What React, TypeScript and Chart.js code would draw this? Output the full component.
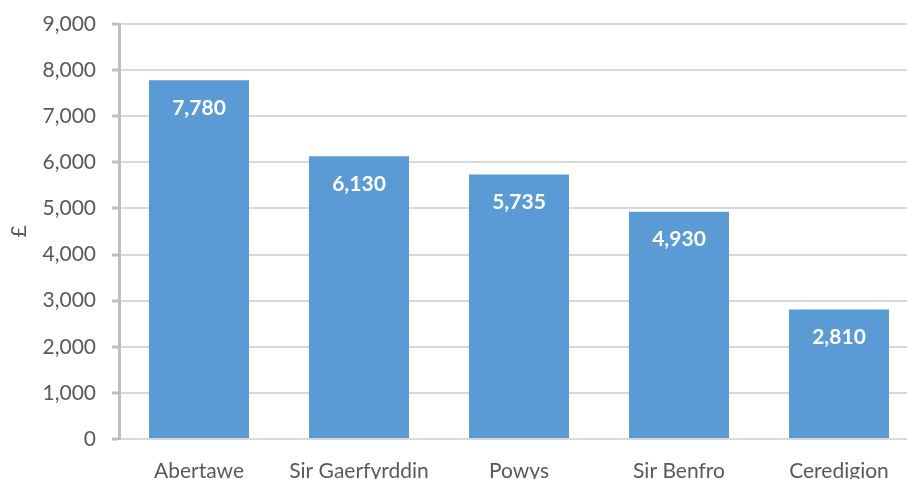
import React, { useEffect, useRef } from "react";
import { Chart, registerables } from "chart.js";

Chart.register(...registerables);

const categories = ["Abertawe", "Sir Gaerfyrddin", "Powys", "Sir Benfro", "Ceredigion"];
const values = [7780, 6130, 5735, 4930, 2810];
const yMin = 0;
const yMax = 9000;
const yStep = 1000;
const yTitle = "£";

const FONT = "Lato, 'Noto Sans', sans-serif";
const TEXT = "#595959";

const fmt = (v: number) => v.toLocaleString("en-US");

const labelPlugin = {
  id: "barLabels",
  afterDatasetsDraw(chart: any) {
    const ctx = chart.ctx;
    const meta = chart.getDatasetMeta(0);
    ctx.save();
    ctx.fillStyle = "#FFFFFF";
    ctx.font = `bold 21px ${FONT}`;
    ctx.textAlign = "center";
    ctx.textBaseline = "middle";
    meta.data.forEach((bar: any, i: number) => {
      ctx.fillText(fmt(values[i]), bar.x, bar.y + 27.5);
    });
    ctx.restore();
  },
};

export default function App() {
  const ref = useRef<HTMLCanvasElement | null>(null);
  useEffect(() => {
    if (!ref.current) return;
    const chart = new Chart(ref.current, {
      type: "bar",
      data: {
        labels: categories,
        datasets: [
          {
            data: values,
            backgroundColor: "#5B9BD5",
            borderWidth: 0,
            categoryPercentage: 1,
            barPercentage: 0.625,
          },
        ],
      },
      options: {
        responsive: false,
        animation: false,
        devicePixelRatio: 1,
        layout: { padding: { top: 24, right: 11, left: 0, bottom: 0 } },
        plugins: { legend: { display: false }, tooltip: { enabled: false } },
        scales: {
          x: {
            grid: { display: false },
            border: { display: false },
            ticks: {
              color: TEXT,
              font: { family: FONT, size: 21 },
              padding: 12,
              maxRotation: 0,
              autoSkip: false,
            },
            afterFit: (s: any) => {
              s.height = 61;
            },
          },
          y: {
            min: yMin,
            max: yMax,
            grid: {
              color: "#D9D9D9",
              lineWidth: 2,
              tickColor: "#BFBFBF",
              tickWidth: 3,
              tickLength: 7,
            },
            border: { color: "#BFBFBF", width: 3 },
            ticks: {
              stepSize: yStep,
              color: TEXT,
              font: { family: FONT, size: 21 },
              padding: 16,
              callback: (v: any) => fmt(Number(v)),
            },
            title: {
              display: true,
              text: yTitle,
              color: TEXT,
              font: { family: FONT, size: 21 },
              padding: { top: 7, bottom: 0 },
            },
            afterFit: (s: any) => {
              s.width = 119;
              s.paddingTop = 0;
              s.paddingBottom = 0;
            },
          },
        },
      },
      plugins: [labelPlugin],
    });
    return () => chart.destroy();
  }, []);
  return (
    <div
      style={{
        position: "fixed",
        left: 0,
        top: 0,
        width: 907,
        height: 479,
        overflow: "hidden",
        background: "#FFFFFF",
      }}
    >
      <canvas ref={ref} width={930} height={500} style={{ width: 930, height: 500, display: "block" }} />
    </div>
  );
}
